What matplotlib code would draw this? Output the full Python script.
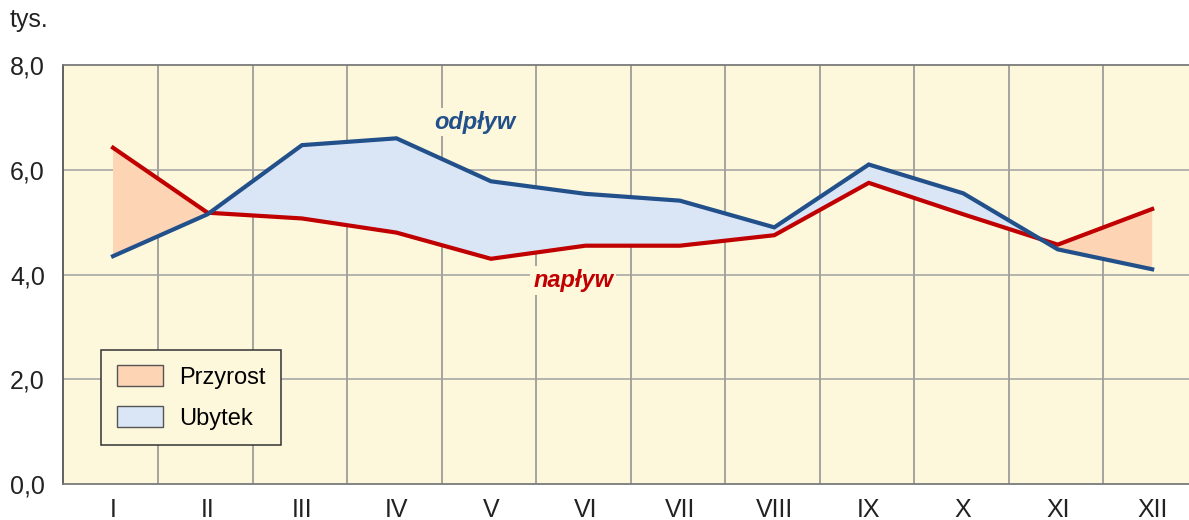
import matplotlib.pyplot as plt
import numpy as np

plt.rcParams['font.family'] = ['Liberation Sans', 'DejaVu Sans']

# data
months  = ['I', 'II', 'III', 'IV', 'V', 'VI', 'VII', 'VIII', 'IX', 'X', 'XI', 'XII']
naplyw  = [6.42, 5.18, 5.07, 4.80, 4.30, 4.55, 4.55, 4.75, 5.75, 5.15, 4.57, 5.25]
odplyw  = [4.35, 5.15, 6.47, 6.60, 5.78, 5.54, 5.41, 4.90, 6.10, 5.55, 4.48, 4.10]
yticks  = [0, 2, 4, 6, 8]
ylabels = ['0,0', '2,0', '4,0', '6,0', '8,0']

bg    = '#FDF7DC'
red   = '#C00000'
blue  = '#22508A'
peach = '#FDD5B5'
lblue = '#DAE6F6'

x  = np.arange(len(months))
na = np.array(naplyw)
od = np.array(odplyw)

fig = plt.figure(figsize=(11.89, 5.2), dpi=100)
ax = fig.add_axes([63/1189, 1-484/520, 1-63/1189, (484-65)/520])
ax.set_facecolor(bg)

ax.fill_between(x, na, od, where=na >= od, interpolate=True, color=peach, lw=0, zorder=2)
ax.fill_between(x, na, od, where=na <= od, interpolate=True, color=lblue, lw=0, zorder=2)
ax.plot(x, na, color=red, lw=3, zorder=4, solid_joinstyle='miter')
ax.plot(x, od, color=blue, lw=3, zorder=5, solid_joinstyle='miter')

# grid
for g in np.arange(0.48, 11.5, 1):
    ax.axvline(g, color='#8c8c8c', lw=1.1, zorder=1)
for g in [2, 4, 6]:
    ax.axhline(g, color='#a0a0a0', lw=1.1, zorder=1)

ax.set_xlim(-0.53, 11.39)
ax.set_ylim(0, 8)
ax.set_xticks(x)
ax.set_xticklabels(months)
ax.set_yticks(yticks)
ax.set_yticklabels(ylabels)
ax.tick_params(length=0, labelsize=18, colors='#222222')
ax.tick_params(axis='y', pad=13)
ax.tick_params(axis='x', pad=10)

ax.spines['right'].set_visible(False)
ax.spines['top'].set_color('#7a7a7a')
ax.spines['left'].set_color('#555555')
ax.spines['bottom'].set_color('#7a7a7a')
for s in ax.spines.values():
    s.set_linewidth(1.3)

ax.text(3.83, 6.91, 'odpływ', color=blue, fontsize=17, fontweight='bold', fontstyle='italic',
        ha='center', va='center', zorder=6,
        bbox=dict(facecolor=bg, edgecolor='none', pad=2))
ax.text(4.87, 3.89, 'napływ', color=red, fontsize=17, fontweight='bold', fontstyle='italic',
        ha='center', va='center', zorder=6,
        bbox=dict(facecolor=bg, edgecolor='none', pad=2))

fig.text(10/1189, 1-20/520, 'tys.', fontsize=18, color='#222222', ha='left', va='center')

handles = [plt.Rectangle((0, 0), 1, 1, facecolor=peach, edgecolor='#555555', lw=1),
           plt.Rectangle((0, 0), 1, 1, facecolor=lblue, edgecolor='#555555', lw=1)]
leg = ax.legend(handles, ['Przyrost', 'Ubytek'], loc='upper left',
                bbox_to_anchor=(0.034, 0.32), fontsize=17, frameon=True,
                fancybox=False, framealpha=1, facecolor=bg, edgecolor='#333333',
                handlelength=1.95, handleheight=0.95, borderpad=0.65, labelspacing=0.75,
                handletextpad=0.7, borderaxespad=0)
leg.get_frame().set_linewidth(1.1)
leg.set_zorder(7)

fig.savefig('out.png', dpi=100, facecolor='white')
